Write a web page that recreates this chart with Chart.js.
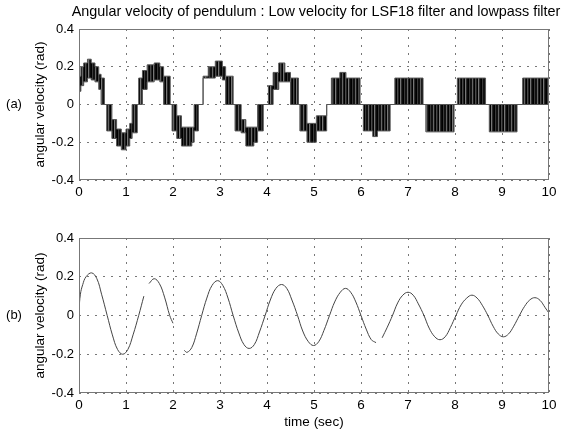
<!DOCTYPE html>
<html>
<head>
<meta charset="utf-8">
<script src="https://cdn.jsdelivr.net/npm/chart.js@4.4.1/dist/chart.umd.min.js"></script>
<style>
  body { margin: 0; background: #fff; }
  .box { position: absolute; left: 0; width: 564px; height: 215px; }
</style>
</head>
<body>
<div class="box" style="top:0"><canvas id="chartA" width="564" height="215"></canvas></div>
<div class="box" style="top:215px"><canvas id="chartB" width="564" height="215"></canvas></div>
<script>
/// (a) LSF18 filter output, chatter band: from bandT[i] to bandT[i+1] the signal sits between bandLo and bandHi
const bandT  = [0.00, 0.04, 0.10, 0.18, 0.26, 0.34, 0.42, 0.47, 0.54, 0.59, 0.70, 0.80, 0.90, 1.00, 1.08, 1.13, 1.24,
                1.27, 1.35, 1.45, 1.60, 1.72, 1.80, 1.94, 1.98, 2.08, 2.18, 2.40, 2.45, 2.54, 2.64, 2.75, 2.90, 3.05,
                3.12, 3.28, 3.32, 3.45, 3.55, 3.72, 3.80, 3.92, 4.03, 4.13, 4.25, 4.38, 4.50, 4.67, 4.70, 4.85, 5.05,
                5.27, 5.37, 5.55, 5.68, 5.98, 6.05, 6.25, 6.35, 6.62, 6.72, 7.32, 7.38, 7.98, 8.05, 8.65, 8.73, 9.32,
                9.44, 10.0];
const bandLo = [0.07, 0.10, 0.12, 0.14, 0.13, 0.12, 0.08, 0.00, 0.00, -0.14, -0.18, -0.22, -0.24, -0.22, -0.18, -0.15, 0.00,
                0.00, 0.08, 0.12, 0.13, 0.12, 0.00, 0.00, -0.14, -0.18, -0.22, -0.20, -0.14, 0.00, 0.14, 0.14, 0.15, 0.13,
                0.00, 0.00, -0.14, -0.15, -0.22, -0.20, -0.14, 0.00, 0.00, 0.08, 0.12, 0.12, 0.00, 0.00, -0.14, -0.20, -0.14,
                0.00, 0.00, 0.00, 0.00, 0.00, -0.14, -0.17, -0.14, 0.00, 0.00, 0.00, -0.145, 0.00, 0.00, 0.00, -0.145, 0.00,
                0.00, 0.00];
const bandHi = [0.15, 0.20, 0.22, 0.24, 0.22, 0.20, 0.16, 0.14, 0.00, 0.00, -0.08, -0.13, -0.15, -0.13, -0.10, 0.00, 0.00,
                0.14, 0.18, 0.21, 0.22, 0.20, 0.15, 0.00, 0.00, -0.06, -0.12, -0.12, 0.00, 0.00, 0.15, 0.20, 0.23, 0.20,
                0.15, 0.00, 0.00, -0.08, -0.12, -0.12, 0.00, 0.00, 0.10, 0.17, 0.22, 0.17, 0.14, 0.00, 0.00, -0.10, -0.06,
                0.00, 0.14, 0.17, 0.14, 0.00, 0.00, 0.00, 0.00, 0.00, 0.14, 0.00, 0.00, 0.00, 0.14, 0.00, 0.00, 0.00,
                0.14, 0.14];

/// (b) lowpass filter output (null = break in the trace)
const timeB = [0.00, 0.03, 0.08, 0.15, 0.27, 0.38, 0.48, 0.60, 0.71, 0.82, 0.93, 1.04, 1.15, 1.27, 1.38, 1.43,
               1.49, 1.60, 1.71, 1.82, 1.93, 2.00, 2.12, 2.24, 2.30, 2.40, 2.50, 2.61, 2.72, 2.83, 2.95, 3.06,
               3.17, 3.28, 3.40, 3.51, 3.62, 3.73, 3.84, 3.96, 4.07, 4.19, 4.31, 4.42, 4.53, 4.65, 4.76, 4.88,
               4.99, 5.10, 5.21, 5.33, 5.44, 5.56, 5.67, 5.78, 5.89, 6.00, 6.11, 6.22, 6.32, 6.38, 6.45, 6.56,
               6.67, 6.78, 6.89, 7.00, 7.11, 7.22, 7.34, 7.45, 7.57, 7.68, 7.79, 7.90, 8.02, 8.13, 8.25, 8.36,
               8.47, 8.58, 8.70, 8.81, 8.92, 9.03, 9.14, 9.25, 9.37, 9.48, 9.59, 9.70, 9.81, 9.92, 10.0];
const velB  = [0.03, 0.11, 0.16, 0.20, 0.22, 0.19, 0.11, 0.00, -0.10, -0.175, -0.20, -0.175, -0.10, 0.00, 0.10, null,
               0.165, 0.19, 0.165, 0.095, 0.00, -0.04, null, -0.18, -0.19, -0.165, -0.095, 0.00, 0.09, 0.155, 0.18, 0.155,
               0.09, 0.00, -0.09, -0.15, -0.17, -0.15, -0.085, 0.00, 0.08, 0.14, 0.16, 0.14, 0.08, 0.00, -0.08, -0.135,
               -0.155, -0.135, -0.078, 0.00, 0.07, 0.12, 0.14, 0.12, 0.07, 0.00, -0.07, -0.125, -0.14, null, -0.115, -0.06,
               0.00, 0.065, 0.105, 0.12, 0.105, 0.06, 0.00, -0.065, -0.11, -0.125, -0.11, -0.063, 0.00, 0.055, 0.09, 0.105,
               0.09, 0.053, 0.00, -0.055, -0.095, -0.11, -0.095, -0.055, 0.00, 0.047, 0.08, 0.092, 0.078, 0.04, 0.012];

const xTicks = [0, 1, 2, 3, 4, 5, 6, 7, 8, 9, 10];
const yTicks = [-0.4, -0.2, 0, 0.2, 0.4];

const TITLE = "Angular velocity of pendulum : Low velocity for LSF18 filter and lowpass filter";
const Y_TITLE = "angular velocity (rad)";
const X_TITLE = "time (sec)";

const FONT = '"Liberation Sans", Arial, sans-serif';
Chart.defaults.font.family = FONT;
Chart.defaults.font.size = 13;
Chart.defaults.color = "#000";

// uneven vertical stripes to imitate the chattering signal
const stripes = ["#000", "#3a3a3a", "#111", "#111", "#666", "#1c1c1c", "#000", "#4a4a4a", "#222", "#000", "#777", "#2a2a2a", "#0a0a0a"];
const pc = document.createElement("canvas");
pc.width = stripes.length; pc.height = 1;
const pg = pc.getContext("2d");
stripes.forEach((c, i) => { pg.fillStyle = c; pg.fillRect(i, 0, 1, 1); });
const chatter = pg.createPattern(pc, "repeat");

const pts = (xs, ys) => xs.map((x, i) => ({ x: x, y: ys[i] }));

// panel letter, frame and (optionally) the figure title
const panelPlugin = (letter, title) => ({
  id: "panel",
  afterDraw(chart) {
    const { ctx, chartArea: a } = chart;
    ctx.save();
    ctx.strokeStyle = "#777";
    ctx.lineWidth = 1;
    ctx.strokeRect(Math.round(a.left) + 0.5, Math.round(a.top) + 0.5, Math.round(a.width) - 1, Math.round(a.height) - 1);
    ctx.fillStyle = "#000";
    ctx.textAlign = "center";
    ctx.textBaseline = "middle";
    ctx.font = "13px " + FONT;
    ctx.fillText(letter, 14, (a.top + a.bottom) / 2);
    if (title) {
      ctx.font = "14.4px " + FONT;
      ctx.fillText(title, (a.left + a.right) / 2 + 2, 12);
    }
    ctx.restore();
  },
});

const makeScales = (xHeight, xTitle) => ({
  x: {
    type: "linear", min: 0, max: 10,
    afterBuildTicks: (s) => { s.ticks = xTicks.map((v) => ({ value: v })); },
    afterFit: (s) => { s.height = xHeight; },
    grid: { color: "#777", drawTicks: false },
    border: { display: false, dash: [2, 6] },
    ticks: { padding: 4, maxRotation: 0, font: { size: 13.5 } },
    title: { display: !!xTitle, text: xTitle || "", padding: { top: 0, bottom: 0 }, font: { size: 13.5 } },
  },
  y: {
    min: -0.4, max: 0.4,
    afterBuildTicks: (s) => { s.ticks = yTicks.map((v) => ({ value: v })); },
    afterFit: (s) => { s.width = 79; },
    grid: { color: "#777", drawTicks: false },
    border: { display: false, dash: [2, 6] },
    ticks: { padding: 5, font: { size: 13 }, callback: (v) => String(Math.round(v * 10) / 10) },
    title: { display: true, text: Y_TITLE, padding: { top: 32, bottom: 0 }, font: { size: 13.5 } },
  },
});

new Chart("chartA", {
  type: "line",
  data: {
    datasets: [
      { data: pts(bandT, bandLo), stepped: true, borderColor: "#555", borderWidth: 1, pointRadius: 0, fill: false },
      { data: pts(bandT, bandHi), stepped: true, borderColor: "#555", borderWidth: 1, pointRadius: 0, fill: "-1", backgroundColor: chatter },
    ],
  },
  options: {
    responsive: false, animation: false, devicePixelRatio: 1,
    layout: { padding: { top: 29, right: 15, left: 0, bottom: 0 } },
    plugins: { legend: { display: false }, tooltip: { enabled: false } },
    scales: makeScales(35, null),
  },
  plugins: [panelPlugin("(a)", TITLE)],
});

new Chart("chartB", {
  type: "line",
  data: {
    datasets: [
      { data: pts(timeB, velB), borderColor: "#444", borderWidth: 1, pointRadius: 0, tension: 0.4, fill: false, spanGaps: false },
    ],
  },
  options: {
    responsive: false, animation: false, devicePixelRatio: 1,
    layout: { padding: { top: 23, right: 15, left: 0, bottom: 0 } },
    plugins: { legend: { display: false }, tooltip: { enabled: false } },
    scales: makeScales(37, X_TITLE),
  },
  plugins: [panelPlugin("(b)", null)],
});
</script>
</body>
</html>
